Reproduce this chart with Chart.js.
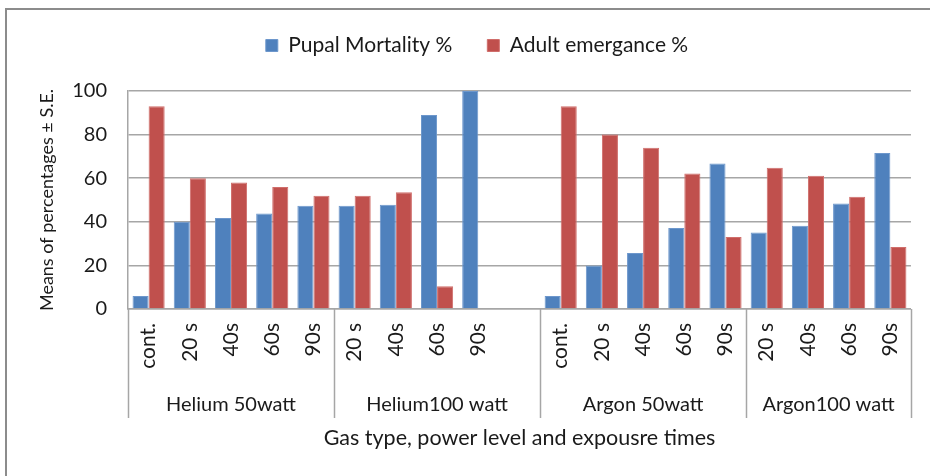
<!DOCTYPE html>
<html>
<head>
<meta charset="utf-8">
<script src="https://cdn.jsdelivr.net/npm/chart.js@4.4.1/dist/chart.umd.min.js"></script>
<style>
  html, body { margin: 0; padding: 0; background: #fff; }
  #wrap { width: 930px; height: 476px; position: relative; }
</style>
</head>
<body>
<div id="wrap"><canvas id="chart"></canvas></div>
<script>
// exposure times (one empty slot closes the Helium 100 W group, as in the original)
const categories = ['cont.', '20 s', '40s', '60s', '90s',
                    '20 s', '40s', '60s', '90s', '',
                    'cont.', '20 s', '40s', '60s', '90s',
                    '20 s', '40s', '60s', '90s'];
const pupalMortality = [6, 40, 41.7, 43.8, 47.4,
                        47.4, 47.8, 89, 100, null,
                        6, 20, 25.7, 37.1, 66.8,
                        35.1, 38.2, 48.4, 71.6];
const adultEmergence = [93, 60, 58, 56, 52,
                        52, 53.5, 10.4, 0, null,
                        93, 80, 74, 62.2, 33,
                        64.8, 61.1, 51.5, 28.4];
const groupLabels = ['Helium 50watt', 'Helium100 watt', 'Argon 50watt', 'Argon100 watt'];
const groupSizes = [5, 5, 5, 4];
const yTicks = [0, 20, 40, 60, 80, 100];

const FONT = 'Lato, "DejaVu Sans", sans-serif';
const GRID = '#a6a6a6';

// cadre gris autour du graphique + séparateurs et noms des groupes sous l'axe x
const groupAxisPlugin = {
  id: 'groupAxis',
  beforeDraw(chart) {
    const { ctx } = chart;
    ctx.save();
    ctx.fillStyle = '#fff';
    ctx.fillRect(0, 0, chart.width, chart.height);
    ctx.strokeStyle = '#8c8c8c';
    ctx.lineWidth = 2;
    ctx.strokeRect(6, 9, chart.width + 20, chart.height + 20);
    ctx.restore();
  },
  afterDraw(chart) {
    const cfg = chart.options.plugins.groupAxis;
    const { ctx, chartArea } = chart;
    const x = chart.scales.x;
    const half = (x.getPixelForValue(1) - x.getPixelForValue(0)) / 2;
    ctx.save();
    ctx.strokeStyle = GRID;
    ctx.lineWidth = 1.5;
    ctx.fillStyle = '#1a1a1a';
    ctx.font = cfg.font;
    ctx.textAlign = 'center';
    ctx.textBaseline = 'middle';
    let start = 0;
    const edges = [x.getPixelForValue(0) - half];
    groupSizes.forEach((n, i) => {
      const left = x.getPixelForValue(start) - half;
      const right = x.getPixelForValue(start + n - 1) + half;
      edges.push(right);
      ctx.fillText(groupLabels[i], (left + right) / 2, chartArea.bottom + cfg.labelOffset);
      start += n;
    });
    edges.forEach((px) => {
      ctx.beginPath();
      ctx.moveTo(Math.round(px) + 0.5, chartArea.bottom);
      ctx.lineTo(Math.round(px) + 0.5, chartArea.bottom + cfg.lineLength);
      ctx.stroke();
    });
    ctx.restore();
  },
};

new Chart(document.getElementById('chart'), {
  type: 'bar',
  data: {
    labels: categories,
    datasets: [
      {
        label: 'Pupal Mortality %',
        data: pupalMortality,
        backgroundColor: '#4f81bd',
        borderColor: '#6d97cc',
        borderWidth: 1,
      },
      {
        label: 'Adult emergance %',
        data: adultEmergence,
        backgroundColor: '#c0504d',
        borderColor: '#d06e6b',
        borderWidth: 1,
      },
    ],
  },
  plugins: [groupAxisPlugin],
  options: {
    responsive: true,
    maintainAspectRatio: false,
    animation: false,
    layout: { padding: { left: 41, right: 17, top: 0, bottom: 0 } },
    datasets: {
      bar: { categoryPercentage: 0.78, barPercentage: 1 },
    },
    plugins: {
      legend: {
        position: 'top',
        weight: 3000,
        labels: {
          font: { family: FONT, size: 21 },
          color: '#1a1a1a',
          boxWidth: 12,
          boxHeight: 12,
          padding: 35,
        },
      },
      // espace vide entre légende et zone de tracé
      subtitle: {
        display: true,
        text: '',
        font: { size: 10, lineHeight: 1 },
        padding: { top: 7, bottom: 8 },
      },
      tooltip: { enabled: false },
      groupAxis: {
        font: `20px ${FONT}`,
        labelOffset: 96,
        lineLength: 109,
      },
    },
    scales: {
      x: {
        grid: { display: false, drawTicks: false },
        border: { display: true, color: GRID, width: 1.5 },
        ticks: {
          autoSkip: false,
          maxRotation: 90,
          minRotation: 90,
          padding: 14,
          color: '#1a1a1a',
          font: { family: FONT, size: 21 },
        },
        title: {
          display: true,
          text: 'Gas type, power level and expousre times',
          color: '#1a1a1a',
          font: { family: FONT, size: 21.5, lineHeight: 1.2 },
          padding: { top: 0, bottom: 25 },
        },
        afterFit(scale) { scale.height = 167; },
      },
      y: {
        min: 0,
        max: 100,
        afterBuildTicks(scale) { scale.ticks = yTicks.map((v) => ({ value: v })); },
        grid: { color: GRID, lineWidth: 1.5, drawTicks: false },
        border: { display: true, color: GRID, width: 1.5 },
        ticks: {
          padding: 21,
          color: '#1a1a1a',
          font: { family: FONT, size: 20 },
        },
        title: {
          display: true,
          text: 'Means of percentages ± S.E.',
          color: '#1a1a1a',
          font: { family: FONT, size: 18, lineHeight: 1 },
          padding: { top: -3, bottom: 0 },
        },
        afterFit(scale) { scale.width = 87; },
      },
    },
  },
});
</script>
</body>
</html>
